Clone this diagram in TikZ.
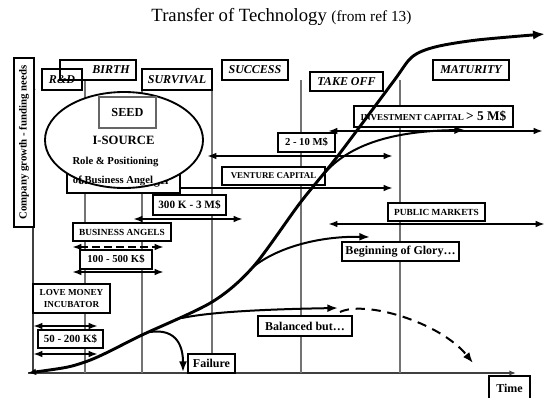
\documentclass[tikz,border=0pt]{standalone}
\usepackage{fontspec}
\setmainfont{Liberation Serif}
\usetikzlibrary{arrows.meta,shadows,shapes.geometric}
\newcommand\fsz[1]{\fontsize{#1}{#1}\selectfont}
\tikzset{
  sz/.style 2 args={minimum width=#1*0.75pt, minimum height=#2*0.75pt},
  phase/.style={draw, line width=1.6pt, inner sep=0pt},
  phasetxt/.style={font=\fsz{9}\bfseries\itshape, inner sep=0pt},
  lbl/.style={draw, line width=0.8pt, fill=white, inner sep=0pt,
    drop shadow={shadow xshift=0.9pt, shadow yshift=-0.9pt, fill=black!60, opacity=1}},
  gridline/.style={draw=black!55, line width=0.8pt},
  axis/.style={draw=black!75, line width=1pt, -{Latex[length=5pt,width=4pt]}},
  span/.style={line width=1.5pt, {Latex[length=7pt,width=5pt]}-{Latex[length=7pt,width=5pt]}},
  flow/.style={line width=1.5pt, -{Latex[length=8pt,width=6pt]}}
}
\begin{document}
\begin{tikzpicture}[x=0.75pt,y=-0.75pt]
\useasboundingbox (0,0) rectangle (547,397);

% title
\node (title) at (281.5,17) {\fsz{14}Transfer of Technology \fsz{11.5}(from ref 13)};

% axes
\coordinate (o) at (28,373);
\coordinate (yb) at (33,373);
\coordinate (yt) at (33,83);
\coordinate (xt) at (516,373);
\draw[axis] (yb) -- (yt);
\draw[axis] (o) -- (xt);

% phase boundaries
\draw[gridline] (85,80) -- (85,373);
\draw[gridline] (142,90) -- (142,373);
\draw[gridline] (212,90) -- (212,373);
\draw[gridline] (301,80) -- (301,373);
\draw[gridline] (400,80) -- (400,373);

% vertical axis label
\node[lbl, sz={20}{169}] (ylab) at (24,142.5) {};
\node[rotate=90, font=\fsz{8.1}\bfseries] (ylabtxt) at (24,142.5) {Company growth - funding needs};

% phases
\node[phase, sz={40}{21}, phasetxt] (rd) at (62,79.5) {R\&D};
\node[phase, sz={76}{20}] (birth) at (98,70) {};
\node[phasetxt] (birthtxt) at (111,70) {BIRTH};
\node[phase, sz={70}{21}, phasetxt] (survival) at (177,79.5) {SURVIVAL};
\node[phase, sz={66}{20}] (success) at (255,70) {};
\node[phasetxt] (successtxt) at (255,70) {SUCCESS};
\node[phase, sz={73}{19}, phasetxt] (takeoff) at (346.5,81.5) {TAKE OFF};
\node[phase, sz={76}{20}, phasetxt] (maturity) at (471,70) {MATURITY};

% business angel box behind the I-SOURCE bubble
\node[lbl, sz={113}{23}, font=\fsz{9}\bfseries] (bagbox) at (123.5,181.5) {of Business Angel};

% I-SOURCE bubble
\node[ellipse, draw, fill=white, line width=1.4pt, minimum width=158*0.75pt, minimum height=96*0.75pt, inner sep=0pt] (isource) at (124,140) {};
\node[draw=black!60, line width=0.8pt, sz={57}{31}, font=\fsz{9.2}\bfseries, inner sep=0pt] (seed) at (127.5,112.5) {SEED};
\node[font=\fsz{9.5}\bfseries] (istxt) at (123.5,140) {I-SOURCE};
\node[font=\fsz{8}\bfseries] (roletxt) at (115.5,162) {Role \& Positioning};
\node[font=\fsz{8}\bfseries] (bagtxt) at (113,181) {of Business Angel};

% funding labels
\node[lbl, sz={57}{19}, font=\fsz{8}\bfseries] (m210) at (306.5,142.5) {2 - 10 M\$};
\node[lbl, sz={159}{21}, font=\bfseries] (invest) at (433.5,116.5) {\fsz{6.8}INVESTMENT CAPITAL \fsz{10}> 5 M\$};
\node[lbl, sz={103}{18}, font=\fsz{6.7}\bfseries] (vc) at (273.5,176) {VENTURE CAPITAL};
\node[lbl, sz={73}{20}, font=\fsz{8.4}\bfseries] (k300) at (189.5,205) {300 K - 3 M\$};
\node[lbl, sz={98}{18}, font=\fsz{7}\bfseries] (angels) at (122,232) {BUSINESS ANGELS};
\node[lbl, sz={72}{19}, font=\fsz{8}\bfseries] (k100) at (116,259.5) {100 - 500 K\$};
\node[lbl, sz={77}{29}, font=\fsz{6.9}\bfseries, align=center] (love) at (71.5,298.5) {LOVE MONEY\\[2pt]INCUBATOR};
\node[lbl, sz={65}{18}, font=\fsz{8.2}\bfseries] (k50) at (70.5,339) {50 - 200 K\$};
\node[lbl, sz={97}{18}, font=\fsz{7}\bfseries] (public) at (436.5,212) {PUBLIC MARKETS};

% outcome labels
\node[lbl, sz={47}{19}, font=\fsz{9}\bfseries] (failure) at (211.5,363.5) {Failure};
\node[lbl, sz={94}{20}, font=\fsz{9}\bfseries] (balanced) at (305,326) {Balanced but…};
\node[lbl, sz={117}{19}, font=\fsz{9}\bfseries] (glory) at (400.5,251.5) {Beginning of Glory…};
\node[lbl, sz={41}{24}, font=\fsz{9}\bfseries] (time) at (509.5,388) {Time};

% funding ranges
\coordinate (vcR) at (393,188);
\draw[line width=1.5pt, -{Latex[length=7pt,width=5pt]}] (bagbox.east |- vcR) -- (vcR);
\coordinate (m210L) at (207,156);  \coordinate (m210R) at (393,156);
\draw[span] (m210L) -- (m210R);
\coordinate (invL) at (328,131);   \coordinate (invR) at (543,131);
\draw[span] (invL) -- (invR);
\coordinate (k300L) at (133,219);  \coordinate (k300R) at (243,219);
\draw[span] (k300L) -- (k300R);
\coordinate (baL) at (72,247);     \coordinate (baR) at (164,247);
\draw[span, dash pattern=on 6pt off 3pt] (baL) -- (baR);
\coordinate (k100L) at (72,272);   \coordinate (k100R) at (164,272);
\draw[span] (k100L) -- (k100R);
\coordinate (lmL) at (33,326);     \coordinate (lmR) at (98,326);
\draw[span] (lmL) -- (lmR);
\coordinate (k50L) at (33,354);    \coordinate (k50R) at (98,354);
\draw[span] (k50L) -- (k50R);
\coordinate (pmL) at (328,224);    \coordinate (pmR) at (545,224);
\draw[span] (pmL) -- (pmR);

% outcome branches
\coordinate (fS) at (150,332);  \coordinate (fE) at (183,372);
\draw[flow] (fS) .. controls (178,328) and (183,348) .. (fE);
\coordinate (bS) at (182,318);  \coordinate (bE) at (338,308);
\draw[flow] (bS) .. controls (215,311) and (280,309) .. (bE);
\coordinate (dS) at (340,312);  \coordinate (dE) at (473,363);
\draw[flow, dash pattern=on 7pt off 5pt] (dS) .. controls (365,300) and (440,322) .. (dE);
\coordinate (gS) at (253,267);  \coordinate (gE) at (370,237);
\draw[flow] (gS) .. controls (278,247) and (320,236) .. (gE);
\coordinate (uS) at (322,176);  \coordinate (uE) at (465,130);
\draw[flow] (uS) .. controls (345,148) and (385,131) .. (uE);

% company growth curve
\draw[line width=2.2pt, {Latex[length=6pt,width=5pt]}-{Latex[length=9pt,width=7pt]}]
  plot[smooth, tension=0.5] coordinates {(28,373) (85,362) (142,335) (212,302) (253,267) (300,203) (337,157) (393,82) (412,57) (435,47) (477,40) (545,34)};
\end{tikzpicture}
\end{document}
